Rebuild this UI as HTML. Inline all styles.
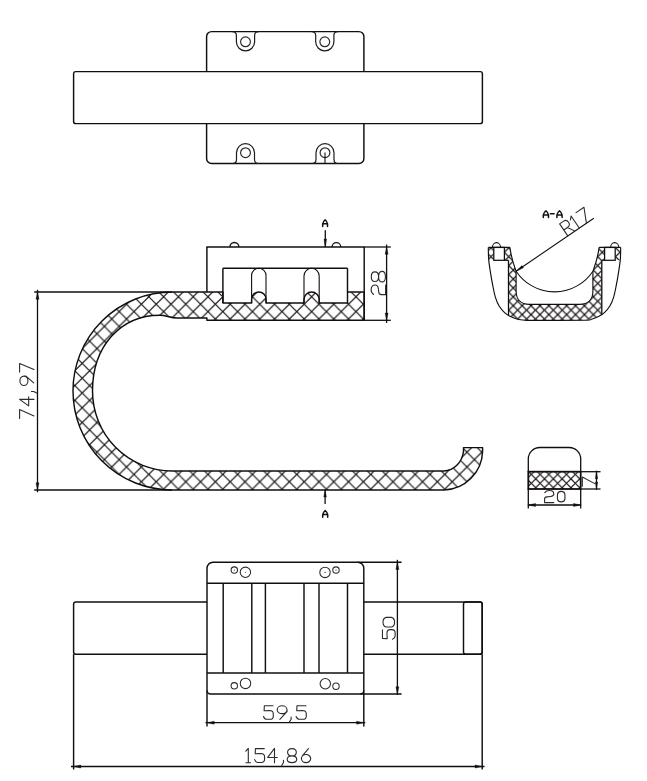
<!DOCTYPE html><html><head><meta charset="utf-8"><title>Drawing</title>
<style>html,body{margin:0;padding:0;background:#fff;font-family:"Liberation Sans", sans-serif;}svg{display:block;}</style></head><body>
<svg width="647" height="781" viewBox="0 0 647 781">
<defs>
<pattern id="hA" patternUnits="userSpaceOnUse" x="0" y="0" width="14.8" height="14.8"><line x1="-2" y1="-16.8" x2="16.8" y2="2" stroke="#1a1515" stroke-width="1.2"/><line x1="-2" y1="-2" x2="16.8" y2="16.8" stroke="#1a1515" stroke-width="1.2"/><line x1="-2" y1="12.8" x2="16.8" y2="31.6" stroke="#1a1515" stroke-width="1.2"/><line x1="-2" y1="-11.3" x2="16.8" y2="-30.1" stroke="#1a1515" stroke-width="1.2"/><line x1="-2" y1="3.5" x2="16.8" y2="-15.3" stroke="#1a1515" stroke-width="1.2"/><line x1="-2" y1="18.3" x2="16.8" y2="-0.5" stroke="#1a1515" stroke-width="1.2"/><line x1="-2" y1="33.1" x2="16.8" y2="14.3" stroke="#1a1515" stroke-width="1.2"/></pattern>
<pattern id="hB" patternUnits="userSpaceOnUse" x="0" y="0" width="8.9" height="8.9"><line x1="-2" y1="-4.9" x2="10.9" y2="8" stroke="#151111" stroke-width="1.2"/><line x1="-2" y1="4" x2="10.9" y2="16.9" stroke="#151111" stroke-width="1.2"/><line x1="-2" y1="12.9" x2="10.9" y2="25.8" stroke="#151111" stroke-width="1.2"/><line x1="-2" y1="-6.8" x2="10.9" y2="-19.7" stroke="#151111" stroke-width="1.2"/><line x1="-2" y1="2.1" x2="10.9" y2="-10.8" stroke="#151111" stroke-width="1.2"/><line x1="-2" y1="11" x2="10.9" y2="-1.9" stroke="#151111" stroke-width="1.2"/><line x1="-2" y1="19.9" x2="10.9" y2="7" stroke="#151111" stroke-width="1.2"/></pattern>
<pattern id="hC" patternUnits="userSpaceOnUse" x="0" y="0" width="8.8" height="8.8"><line x1="-2" y1="-6" x2="10.8" y2="6.8" stroke="#1a1515" stroke-width="1.1"/><line x1="-2" y1="2.8" x2="10.8" y2="15.6" stroke="#1a1515" stroke-width="1.1"/><line x1="-2" y1="11.6" x2="10.8" y2="24.4" stroke="#1a1515" stroke-width="1.1"/><line x1="-2" y1="-4.2" x2="10.8" y2="-17" stroke="#1a1515" stroke-width="1.1"/><line x1="-2" y1="4.6" x2="10.8" y2="-8.2" stroke="#1a1515" stroke-width="1.1"/><line x1="-2" y1="13.4" x2="10.8" y2="0.6" stroke="#1a1515" stroke-width="1.1"/><line x1="-2" y1="22.2" x2="10.8" y2="9.4" stroke="#1a1515" stroke-width="1.1"/></pattern>
</defs>
<rect width="647" height="781" fill="#fff"/>
<path d="M206.6,36.6 L206.6,36.6 A5,5 0 0 1 211.6,31.6 L358.9,31.6 A5,5 0 0 1 363.9,36.6 L363.9,158.5 A5,5 0 0 1 358.9,163.5 L211.6,163.5 A5,5 0 0 1 206.6,158.5 Z" fill="#fff" stroke="#120e0e" stroke-width="1.45" stroke-linejoin="round" />
<path d="M232.4,31.6 Q236.4,31.6 236.4,35.6 L236.4,41.8 A9.1,9.1 0 0 0 254.6,41.8 L254.6,35.6 Q254.6,31.6 258.6,31.6" fill="none" stroke="#1e1a1a" stroke-width="1.2" stroke-linejoin="round" />
<circle cx="245.5" cy="41.8" r="4.9" fill="none" stroke="#2a2626" stroke-width="1.15"/>
<path d="M311.7,31.6 Q315.7,31.6 315.7,35.6 L315.7,41.8 A9.1,9.1 0 0 0 333.9,41.8 L333.9,35.6 Q333.9,31.6 337.9,31.6" fill="none" stroke="#1e1a1a" stroke-width="1.2" stroke-linejoin="round" />
<circle cx="324.8" cy="41.8" r="4.9" fill="none" stroke="#2a2626" stroke-width="1.15"/>
<path d="M232.5,163.5 Q236.5,163.5 236.5,159.5 L236.5,152.7 A9,9 0 0 1 254.5,152.7 L254.5,159.5 Q254.5,163.5 258.5,163.5" fill="none" stroke="#1e1a1a" stroke-width="1.2" stroke-linejoin="round" />
<circle cx="245.5" cy="152.7" r="4.9" fill="none" stroke="#2a2626" stroke-width="1.15"/>
<path d="M312,163.5 Q316,163.5 316,159.5 L316,152.7 A9,9 0 0 1 334,152.7 L334,159.5 Q334,163.5 338,163.5" fill="none" stroke="#1e1a1a" stroke-width="1.2" stroke-linejoin="round" />
<circle cx="325" cy="152.7" r="4.9" fill="none" stroke="#2a2626" stroke-width="1.15"/>
<line x1="325" y1="152.5" x2="325" y2="163.5" stroke="#120e0e" stroke-width="1.1" />
<rect x="73.6" y="71.6" width="408.8" height="52" rx="2.2" ry="2.2" fill="#fff" stroke="#120e0e" stroke-width="1.45"/>
<path d="M364.2,292 L347.5,292 L347.5,303 L319.2,303 L319.2,299.6 A7.6,7.6 0 0 0 304,299.6 L304,303 L266,303 L266,299.2 A7.2,7.2 0 0 0 251.6,299.2 L251.6,303 L222.9,303 L222.9,292 L172,292 A99,99 0 0 0 172,490 L444,490 A39.5,40 0 0 0 482.6,451 L482.6,447.6 L463.5,447.6 L463.5,451.5 A20,23 0 0 1 444,471 L172,471 A79.5,80 0 0 1 92.5,391 C92.5,347 120,315.2 160,315.2 C166,315.2 170,318 177,318 L206.9,318 L206.9,320.3 L364.2,320.3 Z" fill="url(#hA)" stroke="none" stroke-width="0" stroke-linejoin="round" />
<path d="M364.2,292 L347.5,292 L347.5,303 L319.2,303 L319.2,299.6 A7.6,7.6 0 0 0 304,299.6 L304,303 L266,303 L266,299.2 A7.2,7.2 0 0 0 251.6,299.2 L251.6,303 L222.9,303 L222.9,292 L172,292 A99,99 0 0 0 172,490 L444,490 A39.5,40 0 0 0 482.6,451 L482.6,447.6 L463.5,447.6 L463.5,451.5 A20,23 0 0 1 444,471 L172,471 A79.5,80 0 0 1 92.5,391 C92.5,347 120,315.2 160,315.2 C166,315.2 170,318 177,318 L206.9,318 L206.9,320.3 L364.2,320.3 Z" fill="none" stroke="#120e0e" stroke-width="1.45" stroke-linejoin="round" />
<line x1="206.9" y1="247" x2="206.9" y2="292" stroke="#120e0e" stroke-width="1.45" />
<line x1="206.3" y1="247" x2="364.2" y2="247" stroke="#120e0e" stroke-width="1.45" />
<line x1="364.2" y1="246.4" x2="364.2" y2="320.3" stroke="#120e0e" stroke-width="1.45" />
<line x1="222.9" y1="268.3" x2="347.5" y2="268.3" stroke="#120e0e" stroke-width="1.45" />
<line x1="222.9" y1="268.3" x2="222.9" y2="303" stroke="#120e0e" stroke-width="1.45" />
<line x1="347.5" y1="268.3" x2="347.5" y2="292" stroke="#120e0e" stroke-width="1.45" />
<path d="M251.6,303 L251.6,275.5 A7.2,7.2 0 0 1 266,275.5 L266,303" fill="none" stroke="#120e0e" stroke-width="1.1" stroke-linejoin="round" />
<path d="M304,303 L304,275.9 A7.6,7.6 0 0 1 319.2,275.9 L319.2,303" fill="none" stroke="#120e0e" stroke-width="1.1" stroke-linejoin="round" />
<path d="M229.9,247 A4.5,4.5 0 0 1 238.9,247" fill="none" stroke="#120e0e" stroke-width="1.3" stroke-linejoin="round" />
<path d="M332,247 A4.4,4.4 0 0 1 340.8,247" fill="none" stroke="#120e0e" stroke-width="1.3" stroke-linejoin="round" />
<line x1="364.2" y1="247" x2="390.8" y2="247" stroke="#120e0e" stroke-width="1.3" />
<line x1="364.2" y1="320.3" x2="390.8" y2="320.3" stroke="#120e0e" stroke-width="1.3" />
<line x1="386.6" y1="244.5" x2="386.6" y2="323" stroke="#120e0e" stroke-width="1.3" />
<polygon points="386.6,247 388.1,254.2 385.1,254.2" fill="#120e0e" stroke="#120e0e" stroke-width="0.4"/>
<polygon points="386.6,320.3 385.1,313.1 388.1,313.1" fill="#120e0e" stroke="#120e0e" stroke-width="0.4"/>
<line x1="325.3" y1="230.2" x2="325.3" y2="247" stroke="#120e0e" stroke-width="1.3" />
<polygon points="325.3,247 324,239 326.6,239" fill="#120e0e" stroke="#120e0e" stroke-width="0.4"/>
<line x1="325.1" y1="490" x2="325.1" y2="504" stroke="#120e0e" stroke-width="1.3" />
<polygon points="325.1,490 326.4,497 323.8,497" fill="#120e0e" stroke="#120e0e" stroke-width="0.4"/>
<line x1="34.2" y1="292" x2="172" y2="292" stroke="#120e0e" stroke-width="1.3" />
<line x1="34.2" y1="490" x2="172" y2="490" stroke="#120e0e" stroke-width="1.3" />
<line x1="37.5" y1="289.8" x2="37.5" y2="492.2" stroke="#120e0e" stroke-width="1.3" />
<polygon points="37.5,292 39,299.2 36,299.2" fill="#120e0e" stroke="#120e0e" stroke-width="0.4"/>
<polygon points="37.5,490 36,482.8 39,482.8" fill="#120e0e" stroke="#120e0e" stroke-width="0.4"/>
<path d="M493.8,247.4 L493.8,260.3 L488.75,260.3 L488.3,247.4 Z M615.2,247.4 L615.2,260.3 L620.25,260.3 L620.7,247.4 Z M504.4,247.4 L509.9,247.4 Q511.2,258 516.1,271.5 L516.1,291 C516.1,299.5 521,304.3 529.4,304.3 L579.6,304.3 C588,304.3 592.9,299.5 592.9,291 L592.9,271.5 Q597.8,258 599.1,247.4 L604.6,247.4 L604.6,260.3 L601.8,260.3 L601.8,315.0 L598.5,316.6 L591.5,319.3 L584,320.3 L577,320.4 L532,320.4 L525,320.3 L517.5,319.3 L510.5,316.6 L508.5,315 L508.5,260.3 L504.4,260.3 Z" fill="url(#hB)" stroke="none" stroke-width="0" stroke-linejoin="round" />
<path d="M509.9,247.4 Q511.2,258 516.1,271.5 L516.1,291 C516.1,299.5 521,304.3 529.4,304.3 L579.6,304.3 C588,304.3 592.9,299.5 592.9,291 L592.9,271.5 Q597.8,258 599.1,247.4" fill="none" stroke="#120e0e" stroke-width="1.15" stroke-linejoin="round" />
<line x1="508.5" y1="260.3" x2="508.5" y2="315.2" stroke="#120e0e" stroke-width="1.3" />
<line x1="601.8" y1="260.3" x2="601.8" y2="314.6" stroke="#120e0e" stroke-width="1.3" />
<rect x="493.8" y="247.4" width="10.6" height="12.9" fill="#fff" stroke="#120e0e" stroke-width="1.25"/>
<rect x="604.6" y="247.4" width="10.6" height="12.9" fill="#fff" stroke="#120e0e" stroke-width="1.25"/>
<line x1="504.4" y1="260.3" x2="508.5" y2="260.3" stroke="#120e0e" stroke-width="1.25" />
<line x1="601.8" y1="260.3" x2="604.6" y2="260.3" stroke="#120e0e" stroke-width="1.25" />
<line x1="488.3" y1="247.4" x2="509.9" y2="247.4" stroke="#120e0e" stroke-width="1.3" />
<line x1="599.1" y1="247.4" x2="620.7" y2="247.4" stroke="#120e0e" stroke-width="1.3" />
<path d="M492.4,247.4 A4.1,4.8 0 0 1 500.6,247.4" fill="none" stroke="#120e0e" stroke-width="1.05" stroke-linejoin="round" />
<path d="M610.6,247.4 A4.1,4.8 0 0 1 618.8,247.4" fill="none" stroke="#120e0e" stroke-width="1.05" stroke-linejoin="round" />
<path d="M488.3,247.4 C488.37,249.43 488.33,255.4 488.7,259.6 C489.07,263.8 489.82,268.25 490.5,272.6 C491.18,276.95 491.97,281.53 492.8,285.7 C493.63,289.87 494.42,294.17 495.5,297.6 C496.58,301.03 497.78,303.8 499.3,306.3 C500.82,308.8 502.73,310.88 504.6,312.6 C506.47,314.32 508.35,315.48 510.5,316.6 C512.65,317.72 515.08,318.68 517.5,319.3 C519.92,319.92 522.58,320.12 525,320.3 C527.42,320.48 522.17,320.4 532,320.4 C541.83,320.4 574.08,320.48 584,320.3 C593.92,320.12 589.08,319.92 591.5,319.3 C593.92,318.68 596.35,317.72 598.5,316.6 C600.65,315.48 602.53,314.32 604.4,312.6 C606.27,310.88 608.18,308.8 609.7,306.3 C611.22,303.8 612.42,301.03 613.5,297.6 C614.58,294.17 615.37,289.87 616.2,285.7 C617.03,281.53 617.82,276.95 618.5,272.6 C619.18,268.25 619.93,263.8 620.3,259.6 C620.67,255.4 620.63,249.43 620.7,247.4 " fill="none" stroke="#120e0e" stroke-width="1.15" stroke-linejoin="round" />
<path d="M516.1,271.2 A46,46 0 0 0 592.9,271.2" fill="none" stroke="#120e0e" stroke-width="1.05" stroke-linejoin="round" />
<line x1="516.1" y1="271.2" x2="593.8" y2="218.3" stroke="#120e0e" stroke-width="1.1" />
<polygon points="516.1,271.2 521.98,265.62 523.44,267.77" fill="#120e0e" stroke="#120e0e" stroke-width="0.4"/>
<path d="M528.3,471.7 L528.3,459 A11.5,11.5 0 0 1 539.8,447.5 L569.2,447.5 A11.5,11.5 0 0 1 580.7,459 L580.7,471.7" fill="none" stroke="#120e0e" stroke-width="1.3" stroke-linejoin="round" />
<rect x="528.3" y="471.7" width="52.4" height="17.3" fill="url(#hC)" stroke="#120e0e" stroke-width="1.8"/>
<line x1="528.3" y1="489" x2="528.3" y2="508.5" stroke="#120e0e" stroke-width="1.3" />
<line x1="580.7" y1="489" x2="580.7" y2="508.5" stroke="#120e0e" stroke-width="1.3" />
<line x1="527.8" y1="505" x2="581.2" y2="505" stroke="#120e0e" stroke-width="1.3" />
<polygon points="528.3,505 535.5,503.5 535.5,506.5" fill="#120e0e" stroke="#120e0e" stroke-width="0.4"/>
<polygon points="580.7,505 573.5,506.5 573.5,503.5" fill="#120e0e" stroke="#120e0e" stroke-width="0.4"/>
<line x1="580.7" y1="471.7" x2="600.5" y2="471.7" stroke="#120e0e" stroke-width="1.3" />
<line x1="580.7" y1="489" x2="600.5" y2="489" stroke="#120e0e" stroke-width="1.3" />
<line x1="596.5" y1="470.7" x2="596.5" y2="490" stroke="#120e0e" stroke-width="1.3" />
<polygon points="596.5,471.7 597.7,478.7 595.3,478.7" fill="#120e0e" stroke="#120e0e" stroke-width="0.4"/>
<polygon points="596.5,489 595.3,482 597.7,482" fill="#120e0e" stroke="#120e0e" stroke-width="0.4"/>
<rect x="73.6" y="602.0" width="408.6" height="52.2" rx="2.2" ry="2.2" fill="#fff" stroke="#120e0e" stroke-width="1.45"/>
<rect x="463.5" y="602.0" width="18.7" height="52.2" rx="2.2" ry="2.2" fill="none" stroke="#120e0e" stroke-width="1.45"/>
<path d="M207,568.3 L207,568.3 A6,6 0 0 1 213,562.3 L357.8,562.3 A6,6 0 0 1 363.8,568.3 L363.8,690.5 A3.5,3.5 0 0 1 360.3,694 L210.5,694 A3.5,3.5 0 0 1 207,690.5 Z" fill="#fff" stroke="#120e0e" stroke-width="1.45" stroke-linejoin="round" />
<line x1="207" y1="583.3" x2="363.8" y2="583.3" stroke="#120e0e" stroke-width="1.45" />
<line x1="207" y1="672.9" x2="363.8" y2="672.9" stroke="#120e0e" stroke-width="1.45" />
<line x1="223.2" y1="583.3" x2="223.2" y2="672.9" stroke="#120e0e" stroke-width="1.45" />
<line x1="251.8" y1="583.3" x2="251.8" y2="672.9" stroke="#120e0e" stroke-width="1.45" />
<line x1="265.4" y1="583.3" x2="265.4" y2="672.9" stroke="#120e0e" stroke-width="1.45" />
<line x1="304" y1="583.3" x2="304" y2="672.9" stroke="#120e0e" stroke-width="1.45" />
<line x1="319" y1="583.3" x2="319" y2="672.9" stroke="#120e0e" stroke-width="1.45" />
<line x1="347.5" y1="583.3" x2="347.5" y2="672.9" stroke="#120e0e" stroke-width="1.45" />
<circle cx="234.3" cy="570.1" r="3.2" fill="none" stroke="#2a2a2a" stroke-width="1.05"/>
<circle cx="234.3" cy="570.1" r="0.55" fill="#222" stroke="none" stroke-width="0"/>
<circle cx="245.4" cy="572.3" r="5.2" fill="none" stroke="#2a2a2a" stroke-width="1.05"/>
<circle cx="245.4" cy="572.3" r="0.55" fill="#222" stroke="none" stroke-width="0"/>
<circle cx="325" cy="572.4" r="5.2" fill="none" stroke="#2a2a2a" stroke-width="1.05"/>
<circle cx="325" cy="572.4" r="0.55" fill="#222" stroke="none" stroke-width="0"/>
<circle cx="336" cy="570.1" r="3.2" fill="none" stroke="#2a2a2a" stroke-width="1.05"/>
<circle cx="336" cy="570.1" r="0.55" fill="#222" stroke="none" stroke-width="0"/>
<circle cx="234.3" cy="685.8" r="3.2" fill="none" stroke="#2a2a2a" stroke-width="1.05"/>
<circle cx="245.5" cy="683.4" r="5.2" fill="none" stroke="#2a2a2a" stroke-width="1.05"/>
<circle cx="325.3" cy="683.7" r="5.2" fill="none" stroke="#2a2a2a" stroke-width="1.05"/>
<circle cx="336" cy="686.2" r="3.2" fill="none" stroke="#2a2a2a" stroke-width="1.05"/>
<line x1="207" y1="690.5" x2="207" y2="726.5" stroke="#120e0e" stroke-width="1.45" />
<line x1="363.8" y1="690.5" x2="363.8" y2="726.5" stroke="#120e0e" stroke-width="1.45" />
<line x1="205.5" y1="722.7" x2="365.3" y2="722.7" stroke="#120e0e" stroke-width="1.3" />
<polygon points="207,722.7 214.2,721.2 214.2,724.2" fill="#120e0e" stroke="#120e0e" stroke-width="0.4"/>
<polygon points="363.8,722.7 356.6,724.2 356.6,721.2" fill="#120e0e" stroke="#120e0e" stroke-width="0.4"/>
<line x1="357.8" y1="562.3" x2="401.6" y2="562.3" stroke="#120e0e" stroke-width="1.45" />
<line x1="360.3" y1="694" x2="401.6" y2="694" stroke="#120e0e" stroke-width="1.45" />
<line x1="397.4" y1="559.8" x2="397.4" y2="695" stroke="#120e0e" stroke-width="1.3" />
<polygon points="397.4,562.3 398.9,569.5 395.9,569.5" fill="#120e0e" stroke="#120e0e" stroke-width="0.4"/>
<polygon points="397.4,694 395.9,686.8 398.9,686.8" fill="#120e0e" stroke="#120e0e" stroke-width="0.4"/>
<line x1="73.6" y1="654.2" x2="73.6" y2="769.5" stroke="#120e0e" stroke-width="1.45" />
<line x1="482.2" y1="654.2" x2="482.2" y2="769.5" stroke="#120e0e" stroke-width="1.45" />
<line x1="71" y1="766.5" x2="484.5" y2="766.5" stroke="#120e0e" stroke-width="1.3" />
<polygon points="73.6,766.5 80.8,765 80.8,768" fill="#120e0e" stroke="#120e0e" stroke-width="0.4"/>
<polygon points="482.2,766.5 475,768 475,765" fill="#120e0e" stroke="#120e0e" stroke-width="0.4"/>
<path d="M0.95,0.02 L0.1,0.02 L0.08,0.38 L0.62,0.36 C0.86,0.36 0.98,0.45 0.98,0.6 L0.98,0.74 C0.98,0.9 0.85,0.98 0.65,0.98 L0.35,0.98 C0.2,0.98 0.1,0.92 0.02,0.78" transform="translate(263.3 705.4) scale(10.2 14.2)" fill="none" stroke="#2e2a2a" stroke-width="1.1" vector-effect="non-scaling-stroke" stroke-linecap="round" stroke-linejoin="round" />
<path d="M0.02,0.3 A0.48,0.28 0 1 1 0.98,0.3 A0.48,0.28 0 1 1 0.02,0.3 Z M0.98,0.3 L0.98,0.44 L0.28,0.98" transform="translate(277 705.4) scale(10.2 14.2)" fill="none" stroke="#2e2a2a" stroke-width="1.1" vector-effect="non-scaling-stroke" stroke-linecap="round" stroke-linejoin="round" />
<path d="M0.5,0.82 L0.5,0.98 L0.15,1.18" transform="translate(288.6 705.4) scale(5 14.2)" fill="none" stroke="#2e2a2a" stroke-width="1.1" vector-effect="non-scaling-stroke" stroke-linecap="round" stroke-linejoin="round" />
<path d="M0.95,0.02 L0.1,0.02 L0.08,0.38 L0.62,0.36 C0.86,0.36 0.98,0.45 0.98,0.6 L0.98,0.74 C0.98,0.9 0.85,0.98 0.65,0.98 L0.35,0.98 C0.2,0.98 0.1,0.92 0.02,0.78" transform="translate(295.9 705.4) scale(10.6 14.2)" fill="none" stroke="#2e2a2a" stroke-width="1.1" vector-effect="non-scaling-stroke" stroke-linecap="round" stroke-linejoin="round" />
<path d="M0.0,0.19 L0.5,0 L0.5,1 M0.03,1 L0.97,1" transform="translate(245.8 748.3) scale(5 14.5)" fill="none" stroke="#2e2a2a" stroke-width="1.1" vector-effect="non-scaling-stroke" stroke-linecap="round" stroke-linejoin="round" />
<path d="M0.95,0.02 L0.1,0.02 L0.08,0.38 L0.62,0.36 C0.86,0.36 0.98,0.45 0.98,0.6 L0.98,0.74 C0.98,0.9 0.85,0.98 0.65,0.98 L0.35,0.98 C0.2,0.98 0.1,0.92 0.02,0.78" transform="translate(254.4 748.3) scale(10.4 14.5)" fill="none" stroke="#2e2a2a" stroke-width="1.1" vector-effect="non-scaling-stroke" stroke-linecap="round" stroke-linejoin="round" />
<path d="M0.71,1 L0.71,0 L0.0,0.63 L1.0,0.63" transform="translate(267.7 748.3) scale(9.6 14.5)" fill="none" stroke="#2e2a2a" stroke-width="1.1" vector-effect="non-scaling-stroke" stroke-linecap="round" stroke-linejoin="round" />
<path d="M0.5,0.82 L0.5,0.98 L0.15,1.18" transform="translate(281 748.3) scale(5 14.5)" fill="none" stroke="#2e2a2a" stroke-width="1.1" vector-effect="non-scaling-stroke" stroke-linecap="round" stroke-linejoin="round" />
<path d="M0.5,0.02 C0.2,0.02 0.06,0.12 0.06,0.27 C0.06,0.42 0.2,0.52 0.5,0.52 C0.8,0.52 0.94,0.42 0.94,0.27 C0.94,0.12 0.8,0.02 0.5,0.02 Z M0.5,0.52 C0.16,0.52 0.02,0.63 0.02,0.76 C0.02,0.9 0.16,0.99 0.5,0.99 C0.84,0.99 0.98,0.9 0.98,0.76 C0.98,0.63 0.84,0.52 0.5,0.52 Z" transform="translate(287 748.3) scale(9.9 14.5)" fill="none" stroke="#2e2a2a" stroke-width="1.1" vector-effect="non-scaling-stroke" stroke-linecap="round" stroke-linejoin="round" />
<path d="M0.75,0.02 L0.12,0.52 M0.02,0.71 A0.48,0.28 0 1 1 0.98,0.71 A0.48,0.28 0 1 1 0.02,0.71 Z" transform="translate(301.2 748.3) scale(9.7 14.5)" fill="none" stroke="#2e2a2a" stroke-width="1.1" vector-effect="non-scaling-stroke" stroke-linecap="round" stroke-linejoin="round" />
<path d="M0.09,0.18 C0.2,0.04 0.4,0 0.58,0.01 C0.85,0.02 1.0,0.13 1.0,0.29 C1.0,0.42 0.88,0.48 0.67,0.5 L0.32,0.53 C0.14,0.55 0.07,0.6 0.07,0.7 L0.07,1 L1,1" transform="translate(543.9 490.4) scale(9.9 12.2)" fill="none" stroke="#2e2a2a" stroke-width="1.1" vector-effect="non-scaling-stroke" stroke-linecap="round" stroke-linejoin="round" />
<path d="M0.02,0.3 A0.49,0.3 0 0 1 0.98,0.3 L0.98,0.7 A0.49,0.3 0 0 1 0.02,0.7 Z" transform="translate(557.3 490.7) scale(7.8 11.9)" fill="none" stroke="#2e2a2a" stroke-width="1.1" vector-effect="non-scaling-stroke" stroke-linecap="round" stroke-linejoin="round" />
<g transform="translate(371 295.4) rotate(-90)">
<path d="M0.09,0.18 C0.2,0.04 0.4,0 0.58,0.01 C0.85,0.02 1.0,0.13 1.0,0.29 C1.0,0.42 0.88,0.48 0.67,0.5 L0.32,0.53 C0.14,0.55 0.07,0.6 0.07,0.7 L0.07,1 L1,1" transform="translate(0 0) scale(10.4 14.6)" fill="none" stroke="#2e2a2a" stroke-width="1.1" vector-effect="non-scaling-stroke" stroke-linecap="round" stroke-linejoin="round" />
<path d="M0.5,0.02 C0.2,0.02 0.06,0.12 0.06,0.27 C0.06,0.42 0.2,0.52 0.5,0.52 C0.8,0.52 0.94,0.42 0.94,0.27 C0.94,0.12 0.8,0.02 0.5,0.02 Z M0.5,0.52 C0.16,0.52 0.02,0.63 0.02,0.76 C0.02,0.9 0.16,0.99 0.5,0.99 C0.84,0.99 0.98,0.9 0.98,0.76 C0.98,0.63 0.84,0.52 0.5,0.52 Z" transform="translate(13.3 0) scale(10.9 14.6)" fill="none" stroke="#2e2a2a" stroke-width="1.1" vector-effect="non-scaling-stroke" stroke-linecap="round" stroke-linejoin="round" />
</g>
<g transform="translate(382.2 639.4) rotate(-90)">
<path d="M0.95,0.02 L0.1,0.02 L0.08,0.38 L0.62,0.36 C0.86,0.36 0.98,0.45 0.98,0.6 L0.98,0.74 C0.98,0.9 0.85,0.98 0.65,0.98 L0.35,0.98 C0.2,0.98 0.1,0.92 0.02,0.78" transform="translate(0 0) scale(10 13.2)" fill="none" stroke="#2e2a2a" stroke-width="1.1" vector-effect="non-scaling-stroke" stroke-linecap="round" stroke-linejoin="round" />
<path d="M0.02,0.3 A0.49,0.3 0 0 1 0.98,0.3 L0.98,0.7 A0.49,0.3 0 0 1 0.02,0.7 Z" transform="translate(12.2 0) scale(10 13.2)" fill="none" stroke="#2e2a2a" stroke-width="1.1" vector-effect="non-scaling-stroke" stroke-linecap="round" stroke-linejoin="round" />
</g>
<g transform="translate(19.6 418.7) rotate(-90)">
<path d="M0.02,0 L0.98,0 L0.3,1" transform="translate(0 0) scale(9.4 14.4)" fill="none" stroke="#2e2a2a" stroke-width="1.1" vector-effect="non-scaling-stroke" stroke-linecap="round" stroke-linejoin="round" />
<path d="M0.71,1 L0.71,0 L0.0,0.63 L1.0,0.63" transform="translate(12.8 0) scale(9.2 14.4)" fill="none" stroke="#2e2a2a" stroke-width="1.1" vector-effect="non-scaling-stroke" stroke-linecap="round" stroke-linejoin="round" />
<path d="M0.5,0.82 L0.5,0.98 L0.15,1.18" transform="translate(25 0) scale(4.5 14.4)" fill="none" stroke="#2e2a2a" stroke-width="1.1" vector-effect="non-scaling-stroke" stroke-linecap="round" stroke-linejoin="round" />
<path d="M0.02,0.3 A0.48,0.28 0 1 1 0.98,0.3 A0.48,0.28 0 1 1 0.02,0.3 Z M0.98,0.3 L0.98,0.44 L0.28,0.98" transform="translate(33 0) scale(9.8 14.4)" fill="none" stroke="#2e2a2a" stroke-width="1.1" vector-effect="non-scaling-stroke" stroke-linecap="round" stroke-linejoin="round" />
<path d="M0.02,0 L0.98,0 L0.3,1" transform="translate(46.4 0) scale(9 14.4)" fill="none" stroke="#2e2a2a" stroke-width="1.1" vector-effect="non-scaling-stroke" stroke-linecap="round" stroke-linejoin="round" />
</g>
<g transform="translate(582.3 486.5) rotate(-90)">
<path d="M0.02,0 L0.98,0 L0.3,1" transform="translate(0 0) scale(9.6 12.5)" fill="none" stroke="#2e2a2a" stroke-width="1.1" vector-effect="non-scaling-stroke" stroke-linecap="round" stroke-linejoin="round" />
</g>
<g transform="translate(567 236) rotate(-34.25)">
<path d="M0.05,1 L0.05,0 L0.6,0 C0.9,0 1.0,0.12 1.0,0.26 C1.0,0.4 0.9,0.52 0.6,0.52 L0.05,0.52 M0.55,0.52 L1.0,1" transform="translate(0.3 -14.2) scale(8.8 14.2)" fill="none" stroke="#2e2a2a" stroke-width="1.1" vector-effect="non-scaling-stroke" stroke-linecap="round" stroke-linejoin="round" />
<path d="M0.05,0.2 L0.5,0 L0.5,1" transform="translate(11.6 -14.2) scale(6 14.2)" fill="none" stroke="#2e2a2a" stroke-width="1.1" vector-effect="non-scaling-stroke" stroke-linecap="round" stroke-linejoin="round" />
<path d="M0.02,0 L0.98,0 L0.3,1" transform="translate(20.4 -14.2) scale(10 14.2)" fill="none" stroke="#2e2a2a" stroke-width="1.1" vector-effect="non-scaling-stroke" stroke-linecap="round" stroke-linejoin="round" />
</g>
<path d="M0.02,1 L0.02,0.62 Q0.1,0.3 0.5,0.02 Q0.9,0.3 0.98,0.62 L0.98,1 M0.02,0.62 L0.98,0.62" transform="translate(322.6 219.6) scale(5 6.8)" fill="none" stroke="#141010" stroke-width="1.5" vector-effect="non-scaling-stroke" stroke-linecap="round" stroke-linejoin="round" />
<path d="M0.02,1 L0.02,0.62 Q0.1,0.3 0.5,0.02 Q0.9,0.3 0.98,0.62 L0.98,1 M0.02,0.62 L0.98,0.62" transform="translate(322.6 510.4) scale(5.2 6.8)" fill="none" stroke="#141010" stroke-width="1.5" vector-effect="non-scaling-stroke" stroke-linecap="round" stroke-linejoin="round" />
<path d="M0.02,1 L0.02,0.62 Q0.1,0.3 0.5,0.02 Q0.9,0.3 0.98,0.62 L0.98,1 M0.02,0.62 L0.98,0.62" transform="translate(543.2 210.6) scale(5.4 6.9)" fill="none" stroke="#141010" stroke-width="1.5" vector-effect="non-scaling-stroke" stroke-linecap="round" stroke-linejoin="round" />
<path d="M0.1,0.55 L0.9,0.55" transform="translate(550 209.6) scale(4.6 7.4)" fill="none" stroke="#141010" stroke-width="1.5" vector-effect="non-scaling-stroke" stroke-linecap="round" stroke-linejoin="round" />
<path d="M0.02,1 L0.02,0.62 Q0.1,0.3 0.5,0.02 Q0.9,0.3 0.98,0.62 L0.98,1 M0.02,0.62 L0.98,0.62" transform="translate(556.8 210.6) scale(5.4 6.9)" fill="none" stroke="#141010" stroke-width="1.5" vector-effect="non-scaling-stroke" stroke-linecap="round" stroke-linejoin="round" />
</svg></body></html>
